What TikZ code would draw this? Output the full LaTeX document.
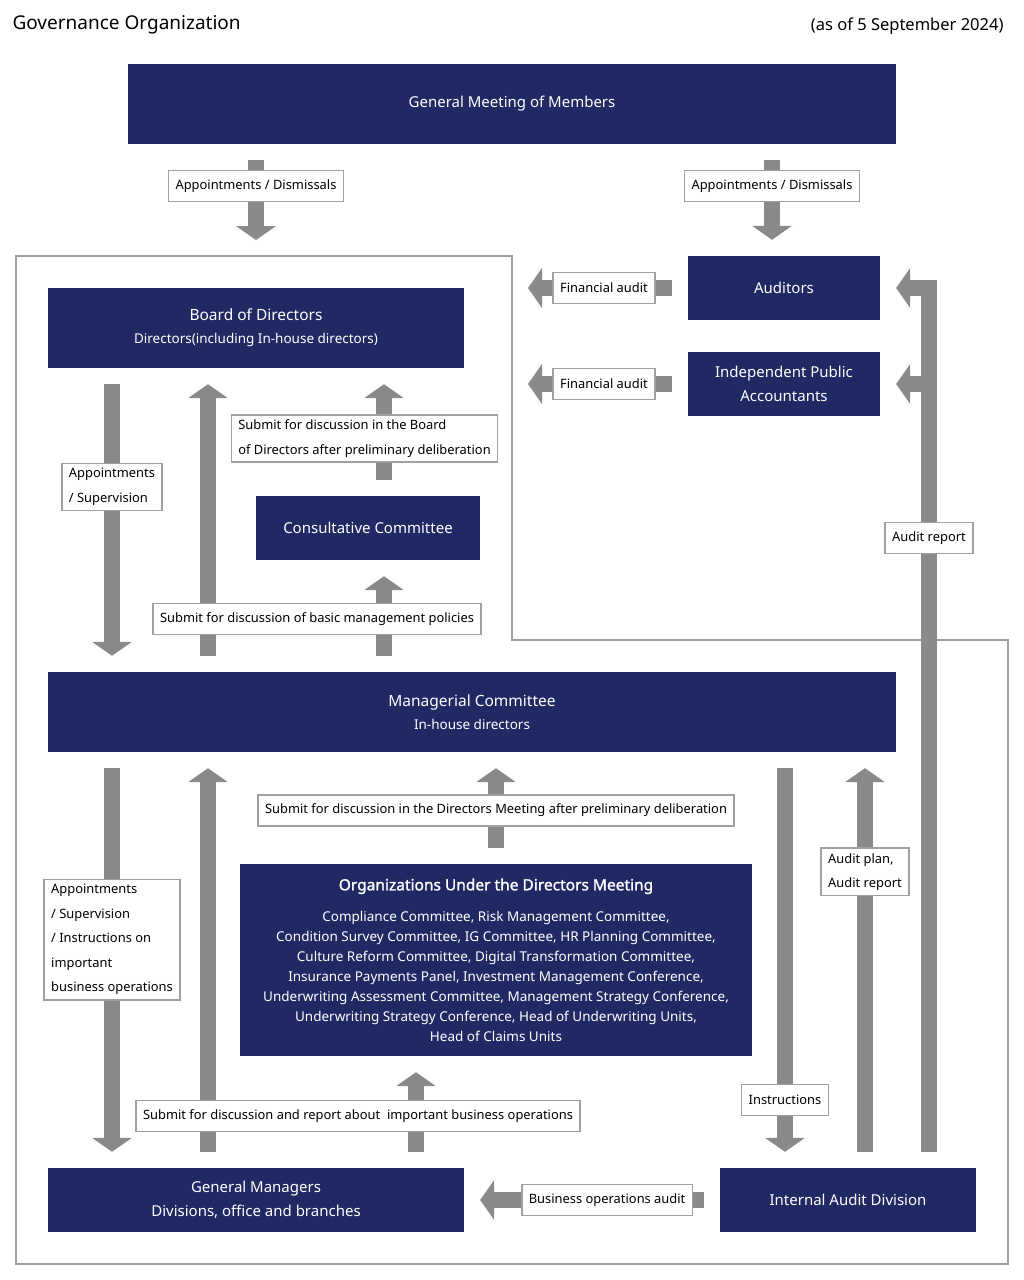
\documentclass[tikz,border=0pt]{standalone}
\usepackage{fontspec}
\setmainfont[AutoFakeBold=1.5]{Noto Sans}
\usetikzlibrary{shapes,arrows.meta}
\definecolor{navy}{RGB}{32,41,99}
\definecolor{shaftgray}{RGB}{138,138,138}
\definecolor{linegray}{RGB}{160,160,160}
\tikzstyle{unit} = [rectangle, fill=navy, text=white, align=center, inner sep=0pt, font=\fontsize{15}{24}\selectfont]
\tikzstyle{tag} = [rectangle, fill=white, draw=linegray, line width=1.5pt, align=left, inner xsep=7pt, inner ysep=5pt, minimum height=31pt, font=\fontsize{12.9}{24.5}\selectfont]
\tikzstyle{arrow} = [draw=shaftgray, line width=16pt, -{Triangle[width=40pt,length=14pt,line width=0pt]}, shorten <=16pt, shorten >=16pt]

\begin{document}
\begin{tikzpicture}[x=1pt, y=-1pt]
\useasboundingbox (0,0) rectangle (1024,1280);

\node (title) [anchor=west, font=\fontsize{19}{22}\selectfont] at (9,25) {Governance Organization};
\node (date) [anchor=east, font=\fontsize{16.5}{18}\selectfont] at (1007,26) {(as of 5 September 2024)};

\draw [linegray, line width=2pt] (16,256) -- (512,256) -- (512,640) -- (1008,640) -- (1008,1264) -- (16,1264) -- cycle;

\node (members) [unit, minimum width=768pt, minimum height=80pt] at (512,104) {General Meeting of Members};
\node (board) [unit, minimum width=416pt, minimum height=80pt, font=\fontsize{13.5}{23}\selectfont] at (256,328) {{\fontsize{15.5}{23}\selectfont Board of Directors}\\Directors(including In-house directors)};
\node (auditors) [unit, minimum width=192pt, minimum height=64pt] at (784,288) {Auditors};
\node (ipa) [unit, minimum width=192pt, minimum height=64pt] at (784,384) {Independent Public\\Accountants};
\node (consult) [unit, minimum width=224pt, minimum height=64pt] at (368,528) {Consultative Committee};
\node (managerial) [unit, minimum width=848pt, minimum height=80pt, font=\fontsize{13.5}{23}\selectfont] at (472,712) {{\fontsize{15.5}{23}\selectfont Managerial Committee}\\In-house directors};
\node (orgs) [unit, minimum width=512pt, minimum height=192pt, font=\fontsize{13.5}{20}\selectfont] at (496,960) {{\fontsize{15.5}{20}\selectfont\bfseries Organizations Under the Directors Meeting}\\[11pt]
  Compliance Committee, Risk Management Committee,\\
  Condition Survey Committee, IG Committee, HR Planning Committee,\\
  Culture Reform Committee, Digital Transformation Committee,\\
  Insurance Payments Panel, Investment Management Conference,\\
  Underwriting Assessment Committee, Management Strategy Conference,\\
  Underwriting Strategy Conference, Head of Underwriting Units,\\
  Head of Claims Units};
\node (managers) [unit, minimum width=416pt, minimum height=64pt] at (256,1200) {General Managers\\Divisions, office and branches};
\node (internal) [unit, minimum width=256pt, minimum height=64pt] at (848,1200) {Internal Audit Division};

\coordinate (frametop) at (256,256);
\coordinate (edge) at (512,0);
\coordinate (xleft) at (256,0);
\coordinate (xright) at (772,0);
\coordinate (xdown) at (112,0);
\coordinate (xup) at (208,0);
\coordinate (xconsult) at (384,0);
\coordinate (xorgs) at (496,0);
\coordinate (xmgr) at (416,0);
\coordinate (xinstr) at (785,0);
\coordinate (xplan) at (865,0);
\coordinate (xaudit) at (929,0);

\draw [arrow] (members.south -| xleft) -- node[tag, pos=0.375] {Appointments / Dismissals} (frametop);
\draw [arrow] (members.south -| xright) -- node[tag, pos=0.375] {Appointments / Dismissals} (auditors.north -| xright);
\draw [arrow] (auditors.west) -- node[tag, pos=0.477] {Financial audit} (auditors.west -| edge);
\draw [arrow] (ipa.west) -- node[tag, pos=0.477] {Financial audit} (ipa.west -| edge);
\draw [arrow] (internal.north -| xaudit) |- node[tag, pos=0.358] {Audit report} (auditors.east);
\draw [arrow, shorten <=0pt] (ipa.east -| xaudit) -- (ipa.east);

\draw [arrow] (board.south -| xdown) -- node[tag, pos=0.391] {Appointments\\/ Supervision} (managerial.north -| xdown);
\draw [arrow] (managerial.north -| xup) -- (board.south -| xup);
\draw [arrow] (consult.north -| xconsult) -- node[tag, pos=0.449, xshift=-19.5pt] {Submit for discussion in the Board\\of Directors after preliminary deliberation} (board.south -| xconsult);
\draw [arrow] (managerial.north -| xconsult) -- node[tag, pos=0.473, xshift=-67pt] {Submit for discussion of basic management policies} (consult.south -| xconsult);

\draw [arrow] (managerial.south -| xdown) -- node[tag, pos=0.451] {Appointments\\/ Supervision\\/ Instructions on\\important\\business operations} (managers.north -| xdown);
\draw [arrow] (managers.north -| xup) -- (managerial.south -| xup);
\draw [arrow] (orgs.north -| xorgs) -- node[tag, pos=0.478] {Submit for discussion in the Directors Meeting after preliminary deliberation} (managerial.south -| xorgs);
\draw [arrow] (managers.north -| xmgr) -- node[tag, pos=0.464, xshift=-58pt] {Submit for discussion and report about\ \ important business operations} (orgs.south -| xmgr);
\draw [arrow] (managerial.south -| xinstr) -- node[tag, pos=0.837] {Instructions} (internal.north -| xinstr);
\draw [arrow] (internal.north -| xplan) -- node[tag, pos=0.712] {Audit plan,\\Audit report} (managerial.south -| xplan);
\draw [arrow] (internal.west) -- node[tag, pos=0.441] {Business operations audit} (managers.east);

\end{tikzpicture}
\end{document}
